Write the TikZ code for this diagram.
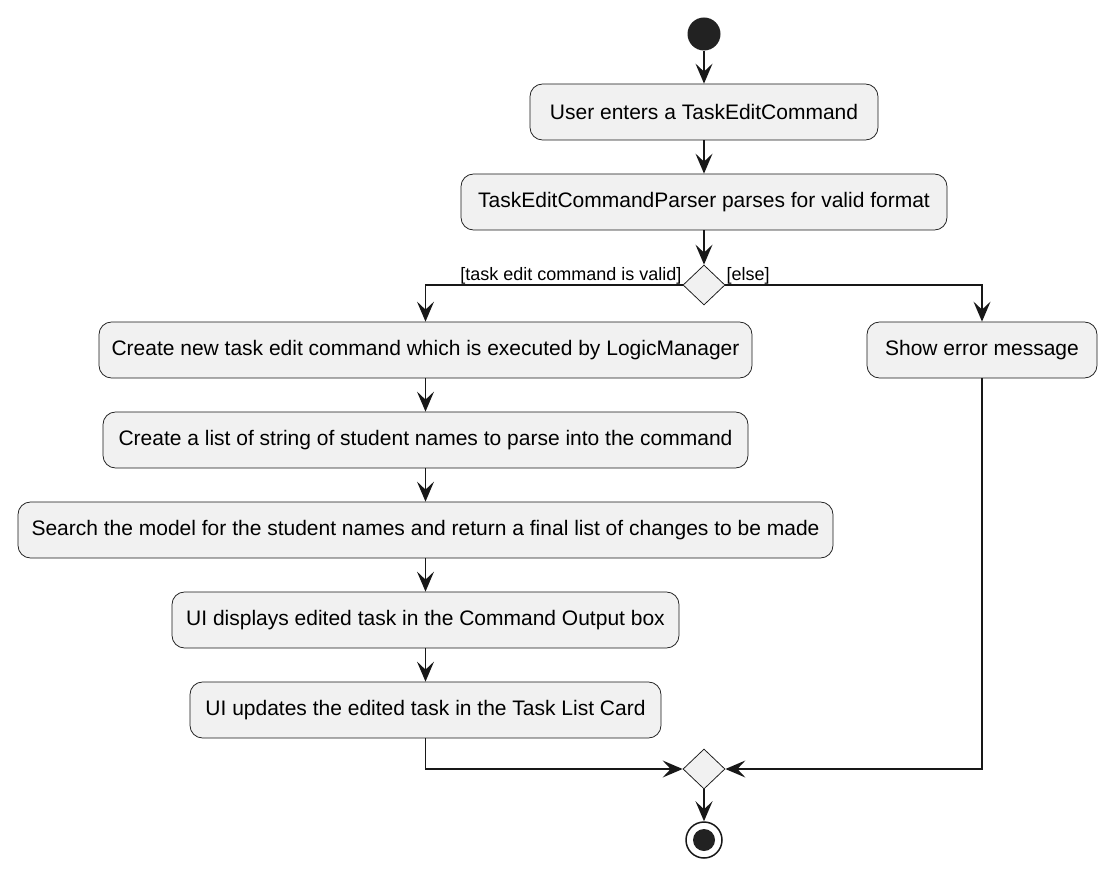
\documentclass[tikz,border=0pt]{standalone}
\usepackage{fontspec}
\setmainfont{Liberation Sans}
\usetikzlibrary{arrows.meta,shapes.geometric}
\definecolor{boxfill}{HTML}{F1F1F1}
\definecolor{boxline}{HTML}{181818}
\definecolor{dot}{HTML}{222222}
\begin{document}
\begin{tikzpicture}[x=1pt,y=-1pt,
  act/.style={draw=boxline, fill=boxfill, line width=0.75pt, rounded corners=12.5pt,
    minimum height=56pt, inner sep=0pt, font=\fontsize{21}{25}\selectfont},
  decision/.style={diamond, draw=boxline, fill=boxfill, line width=0.75pt,
    minimum width=42pt, minimum height=40pt, inner sep=0pt},
  flow/.style={draw=boxline, line width=1.5pt, -{Stealth[length=20pt,width=17pt,inset=8pt]}},
  guard/.style={font=\fontsize{18}{21}\selectfont, inner sep=1pt}]
\useasboundingbox (0,0) rectangle (1113,877);
\node[circle, fill=dot, minimum size=33pt, inner sep=0pt] (start) at (704,34) {};
\node[act, minimum width=348pt] (a1) at (704,112) {User enters a TaskEditCommand};
\node[act, minimum width=486pt] (a2) at (704,202) {TaskEditCommandParser parses for valid format};
\node[decision] (d1) at (704,285) {};
\node[act, minimum width=653pt] (a3) at (425.5,350) {Create new task edit command which is executed by LogicManager};
\node[act, minimum width=645pt] (a4) at (425.5,440) {Create a list of string of student names to parse into the command};
\node[act, minimum width=815pt] (a5) at (425.5,530) {Search the model for the student names and return a final list of changes to be made};
\node[act, minimum width=507pt] (a6) at (425.5,620) {UI displays edited task in the Command Output box};
\node[act, minimum width=471pt] (a7) at (425.5,710) {UI updates the edited task in the Task List Card};
\node[act, minimum width=230pt] (err) at (982,350) {Show error message};
\node[decision] (m1) at (704,769) {};
\node[circle, draw=boxline, line width=1.5pt, fill=white, minimum size=36pt, inner sep=0pt] (stop) at (704,840) {};
\fill[dot] (stop.center) circle (11pt);
\draw[flow] (start) -- (a1);
\draw[flow] (a1) -- (a2);
\draw[flow] (a2) -- (d1);
\draw[flow] (d1.west) -| (a3.north);
\draw[flow] (d1.east) -| (err.north);
\node[guard, anchor=south east] (g1) at (d1.west) {[task edit command is valid]};
\node[guard, anchor=south west] (g2) at (d1.east) {[else]};
\draw[flow] (a3) -- (a4);
\draw[flow] (a4) -- (a5);
\draw[flow] (a5) -- (a6);
\draw[flow] (a6) -- (a7);
\draw[flow] (a7.south) |- (m1.west);
\draw[flow] (err.south) |- (m1.east);
\draw[flow] (m1) -- (stop);
\end{tikzpicture}
\end{document}
